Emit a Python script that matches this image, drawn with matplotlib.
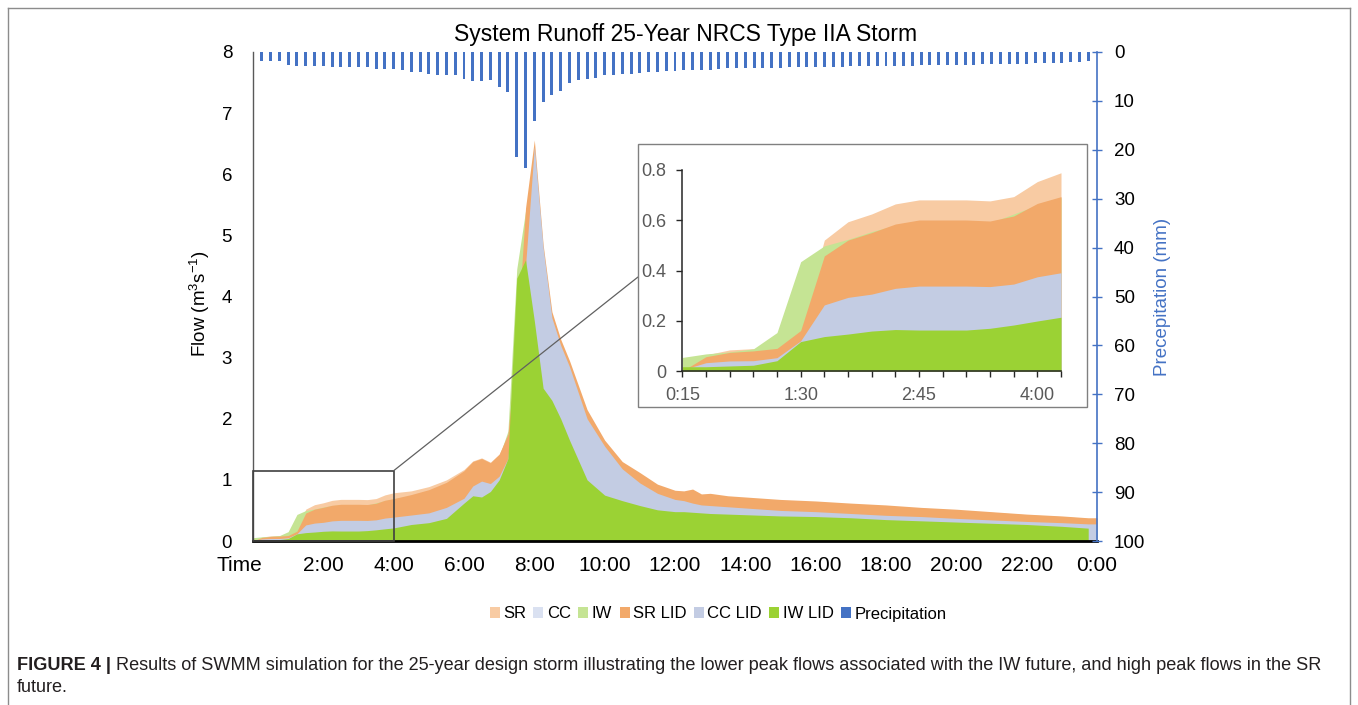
import numpy as np
import matplotlib
matplotlib.use("Agg")
import matplotlib.pyplot as plt
from matplotlib.patches import Rectangle, Patch, ConnectionPatch
from matplotlib.lines import Line2D
from matplotlib import transforms
from matplotlib import font_manager

# ---------------- data ----------------
time_h = [0, 0.25, 0.5, 0.75, 1.0, 1.25, 1.5, 1.75, 2.0, 2.25, 2.5, 2.75, 3.0, 3.25, 3.5, 3.75, 4.0,
          4.5, 5.0, 5.5, 6.0, 6.25, 6.5, 6.75, 7.0, 7.25, 7.5, 7.75, 8.0, 8.25, 8.5, 8.75, 9.0,
          9.5, 10.0, 10.5, 11.0, 11.5, 12.0, 12.25, 12.5, 12.75, 13.0, 13.5, 14, 15, 16, 17, 18,
          19, 20, 21, 22, 23, 23.75, 24]

sr = [0.0, 0.064, 0.084, 0.089, 0.097, 0.17, 0.521, 0.594, 0.625, 0.665, 0.681, 0.681, 0.681, 0.677, 0.694, 0.754, 0.789,
      0.82, 0.89, 1.0, 1.17, 1.31, 1.36, 1.29, 1.42, 1.72, 3.0, 5.2, 6.4, 4.7, 3.6, 3.2, 2.9,
      2.1, 1.6, 1.25, 1.08, 0.9, 0.8, 0.79, 0.8, 0.75, 0.75, 0.72, 0.7, 0.66, 0.64, 0.6, 0.57,
      0.54, 0.5, 0.47, 0.43, 0.4, 0.37, 0.37]
cc = [0.005, 0.04, 0.05, 0.055, 0.07, 0.14, 0.35, 0.40, 0.42, 0.45, 0.46, 0.46, 0.46, 0.46, 0.47, 0.5, 0.52,
      0.56, 0.6, 0.7, 0.85, 1.0, 1.05, 1.0, 1.15, 1.45, 3.0, 4.6, 6.3, 4.7, 3.6, 3.15, 2.8,
      2.0, 1.55, 1.2, 1.0, 0.82, 0.72, 0.7, 0.68, 0.64, 0.63, 0.6, 0.58, 0.55, 0.52, 0.49, 0.46,
      0.44, 0.41, 0.38, 0.35, 0.33, 0.31, 0.31]
iw = [0.054, 0.068, 0.076, 0.088, 0.153, 0.435, 0.498, 0.524, 0.555, 0.58, 0.59, 0.59, 0.59, 0.59, 0.625, 0.66, 0.69,
      0.74, 0.8, 0.9, 1.1, 1.2, 1.25, 1.2, 1.38, 1.8, 4.45, 5.4, 3.7, 2.6, 2.35, 2.05, 1.7,
      1.05, 0.8, 0.7, 0.62, 0.55, 0.5, 0.5, 0.49, 0.48, 0.47, 0.45, 0.44, 0.43, 0.41, 0.39, 0.36,
      0.34, 0.32, 0.3, 0.28, 0.25, 0.22, 0.22]
sr_lid = [0.0, 0.057, 0.074, 0.08, 0.09, 0.161, 0.458, 0.521, 0.551, 0.585, 0.601, 0.601, 0.601, 0.597, 0.617, 0.667, 0.694,
          0.76, 0.84, 0.96, 1.15, 1.30, 1.35, 1.28, 1.42, 1.75, 3.2, 5.45, 6.56, 4.85, 3.75, 3.3, 2.95,
          2.15, 1.65, 1.3, 1.12, 0.93, 0.83, 0.82, 0.85, 0.77, 0.78, 0.74, 0.72, 0.68, 0.655, 0.62, 0.59,
          0.55, 0.52, 0.48, 0.44, 0.41, 0.38, 0.38]
cc_lid = [0.005, 0.033, 0.04, 0.041, 0.053, 0.12, 0.263, 0.293, 0.306, 0.329, 0.338, 0.338, 0.338, 0.336, 0.346, 0.375, 0.391,
          0.425, 0.46, 0.55, 0.70, 0.90, 0.98, 0.94, 1.06, 1.35, 3.0, 4.5, 6.45, 4.8, 3.65, 3.2, 2.85,
          2.0, 1.55, 1.18, 0.95, 0.78, 0.68, 0.66, 0.62, 0.59, 0.58, 0.56, 0.54, 0.50, 0.48, 0.45, 0.42,
          0.40, 0.37, 0.345, 0.32, 0.30, 0.28, 0.28]
iw_lid = [0.017, 0.017, 0.02, 0.023, 0.041, 0.117, 0.137, 0.147, 0.159, 0.165, 0.163, 0.163, 0.163, 0.170, 0.183, 0.199, 0.214,
          0.27, 0.30, 0.37, 0.62, 0.74, 0.72, 0.81, 1.0, 1.35, 4.3, 4.6, 3.6, 2.5, 2.3, 2.0, 1.65,
          1.0, 0.75, 0.66, 0.58, 0.51, 0.48, 0.48, 0.47, 0.46, 0.45, 0.44, 0.43, 0.41, 0.40, 0.38, 0.35,
          0.33, 0.31, 0.29, 0.27, 0.24, 0.21, np.nan]

precip_time = np.arange(0.25, 24.0, 0.25)
precip_mm = [1.8, 1.8, 1.8, 2.7, 2.9, 2.9, 2.9, 2.9,
             3.1, 3.0, 3.0, 3.0, 3.0, 3.5, 3.5, 3.5,
             3.7, 4.0, 4.0, 4.6, 4.7, 4.7, 4.7, 5.6,
             5.9, 5.9, 5.7, 7.1, 8.1, 21.4, 23.8, 14.1,
             10.3, 8.8, 7.9, 6.4, 5.7, 5.6, 5.4, 4.7,
             4.7, 4.6, 4.6, 4.2, 4.0, 4.0, 3.8, 3.8,
             3.6, 3.6, 3.6, 3.7, 3.4, 3.3, 3.3, 3.3,
             3.3, 3.3, 3.3, 3.3, 3.1, 3.1, 3.1, 3.1,
             3.1, 3.1, 3.1, 2.9, 2.9, 2.9, 2.9, 2.9,
             2.9, 2.9, 2.9, 2.7, 2.7, 2.7, 2.7, 2.7,
             2.7, 2.7, 2.5, 2.5, 2.5, 2.5, 2.5, 2.5,
             2.3, 2.3, 2.3, 2.3, 2.0, 2.0, 1.9]

series_names = ["SR", "CC", "IW", "SR LID", "CC LID", "IW LID"]
series_vals = [sr, cc, iw, sr_lid, cc_lid, iw_lid]
series_colors = ["#F8CBA3", "#DAE1F1", "#C5E494", "#F2A96A", "#C3CCE3", "#9BD234"]
precip_color = "#4472C4"

main_xticks = list(range(2, 25, 2))
main_xlabels = ["2:00", "4:00", "6:00", "8:00", "10:00", "12:00", "14:00", "16:00",
                "18:00", "20:00", "22:00", "0:00"]
inset_xlabels = {0: "0:15", 5: "1:30", 10: "2:45", 15: "4:00"}

title = "System Runoff 25-Year NRCS Type IIA Storm"
caption_bold = "FIGURE 4 |"
caption_1 = (" Results of SWMM simulation for the 25-year design storm illustrating the lower peak flows "
             "associated with the IW future, and high peak flows in the SR")
caption_2 = "future."

# ---------------- layout ----------------
W, H = 1358, 705
plt.rcParams["font.family"] = ["Liberation Sans", "DejaVu Sans"]
plt.rcParams["mathtext.fontset"] = "custom"
plt.rcParams["mathtext.rm"] = "Liberation Sans"
plt.rcParams["mathtext.default"] = "regular"

fig = plt.figure(figsize=(W / 100, H / 100), dpi=100)
fig.patch.set_facecolor("white")


def fx(px):
    return px / W


def fy(py):
    return 1 - py / H


t = np.array(time_h, dtype=float)

ax = fig.add_axes([fx(253), fy(541), fx(1097) - fx(253), fy(52) - fy(541)])
for vals, col in zip(series_vals, series_colors):
    y = np.array(vals, dtype=float)
    m = ~np.isnan(y)
    ax.fill_between(t[m], 0, y[m], color=col, lw=0)

ax.set_xlim(0, 24)
ax.set_ylim(0, 8)
ax.set_xticks(main_xticks)
ax.set_xticklabels(main_xlabels)
ax.set_yticks(range(0, 9))
ax.tick_params(axis="x", length=0, pad=11, labelsize=15, colors="#000000")
ax.tick_params(axis="y", length=0, pad=15, labelsize=13.5, colors="#000000")
for s in ["top", "right"]:
    ax.spines[s].set_visible(False)
ax.spines["bottom"].set_color("#000000")
ax.spines["bottom"].set_linewidth(2.0)
ax.spines["left"].set_color("#595959")
ax.spines["left"].set_linewidth(1.0)
ax.set_ylabel(r"Flow (m$^{3}$s$^{-1}$)", fontsize=13.5)
ax.yaxis.set_label_coords((212 - 253) / 844, 0.485)

tr = transforms.offset_copy(ax.get_xaxis_transform(), fig=fig, y=-11, units="points")
ax.text(-0.4, 0, "Time", transform=tr, ha="center", va="top", fontsize=15)

# zoom box
ax.add_patch(Rectangle((0, 0), 4.0, 1.15, fill=False, edgecolor="#404040", lw=1.2, zorder=10, clip_on=False))

# precipitation
ax2 = ax.twinx()
ax2.bar(precip_time, precip_mm, width=0.085, color=precip_color, align="center", zorder=3)
ax2.set_ylim(100, 0)
ax2.set_xlim(0, 24)
ax2.set_yticks(range(0, 101, 10))
ax2.tick_params(axis="y", direction="inout", length=6.5, width=1.0, color=precip_color,
                pad=9, labelsize=13.5, labelcolor="#000000")
for s in ["top", "left", "bottom"]:
    ax2.spines[s].set_visible(False)
ax2.spines["right"].set_color(precip_color)
ax2.spines["right"].set_linewidth(1.2)
ax2.set_ylabel("Precepitation (mm)", fontsize=13.5, color=precip_color)
ax2.yaxis.set_label_coords((1154 - 253) / 844, 0.5)

# inset frame
frame = Rectangle((fx(638), fy(407)), fx(1087) - fx(638), fy(144) - fy(407),
                  transform=fig.transFigure, facecolor="white", edgecolor="#808080", lw=1.0, zorder=4)
fig.add_artist(frame)
con = ConnectionPatch(xyA=(4.0, 1.15), coordsA=ax.transData, xyB=(fx(638), fy(277)),
                      coordsB=fig.transFigure, color="#606060", lw=0.9, zorder=3.5)
fig.add_artist(con)

axi = fig.add_axes([fx(682.3), fy(371), fx(1061) - fx(682.3), fy(170) - fy(371)], zorder=5)
axi.patch.set_alpha(0)
n_in = 17
for vals, col in zip(series_vals, series_colors):
    y = np.array(vals[:n_in], dtype=float)
    axi.fill_between(t[:n_in], 0, y, color=col, lw=0)
axi.set_xlim(0, 4.0)
axi.set_ylim(0, 0.8)
xt = t[:n_in]
axi.set_xticks(xt)
axi.set_xticklabels([inset_xlabels.get(i, "") for i in range(n_in)])
axi.set_yticks([0, 0.2, 0.4, 0.6, 0.8])
axi.set_yticklabels(["0", "0.2", "0.4", "0.6", "0.8"])
axi.tick_params(direction="out", length=4.5, width=1.0, color="#262626",
                labelcolor="#595959", labelsize=13, pad=7)
for s in ["top", "right"]:
    axi.spines[s].set_visible(False)
for s in ["left", "bottom"]:
    axi.spines[s].set_color("#262626")
    axi.spines[s].set_linewidth(1.1)

# title
fig.text(fx(686), fy(35), title, ha="center", va="center", fontsize=16.5)

# legend
handles = [Patch(facecolor=c, edgecolor="none") for c in series_colors] + \
          [Patch(facecolor=precip_color, edgecolor="none")]
labels = series_names + ["Precipitation"]
fig.legend(handles, labels, loc="center", bbox_to_anchor=(fx(718), fy(614)), ncol=7, frameon=False,
           fontsize=12, handlelength=0.6, handleheight=0.6, handletextpad=0.2, columnspacing=0.45)

# outer border
bc = "#8C8C8C"
fig.add_artist(Line2D([fx(8), fx(8)], [0, fy(8)], color=bc, lw=1.0, transform=fig.transFigure))
fig.add_artist(Line2D([fx(8), fx(1350)], [fy(8), fy(8)], color=bc, lw=1.0, transform=fig.transFigure))
fig.add_artist(Line2D([fx(1350), fx(1350)], [0, fy(8)], color=bc, lw=1.0, transform=fig.transFigure))

# caption
names = {f.name for f in font_manager.fontManager.ttflist}
cap_family = ["Liberation Sans Narrow", "Liberation Sans"] if "Liberation Sans Narrow" in names else ["Liberation Sans"]
cap_color = "#231F20"
cs = 12.0
renderer = fig.canvas.get_renderer()
tb = fig.text(fx(17), fy(665), caption_bold, fontweight="bold", fontsize=cs, va="center",
              family=cap_family, color=cap_color)
bb = tb.get_window_extent(renderer)
tr1 = fig.text(bb.x1 / W, fy(665), caption_1, fontsize=cs, va="center", family=cap_family, color=cap_color)
bb1 = tr1.get_window_extent(renderer)
scale = (1328 - 17) / (bb1.x1 - bb.x0)
cs = cs * scale
tb.set_fontsize(cs)
tr1.set_fontsize(cs)
bb = tb.get_window_extent(renderer)
tr1.set_x(bb.x1 / W)
fig.text(fx(17), fy(688), caption_2, fontsize=cs, va="center", family=cap_family, color=cap_color)

fig.savefig("out.png", dpi=100, facecolor="white")
